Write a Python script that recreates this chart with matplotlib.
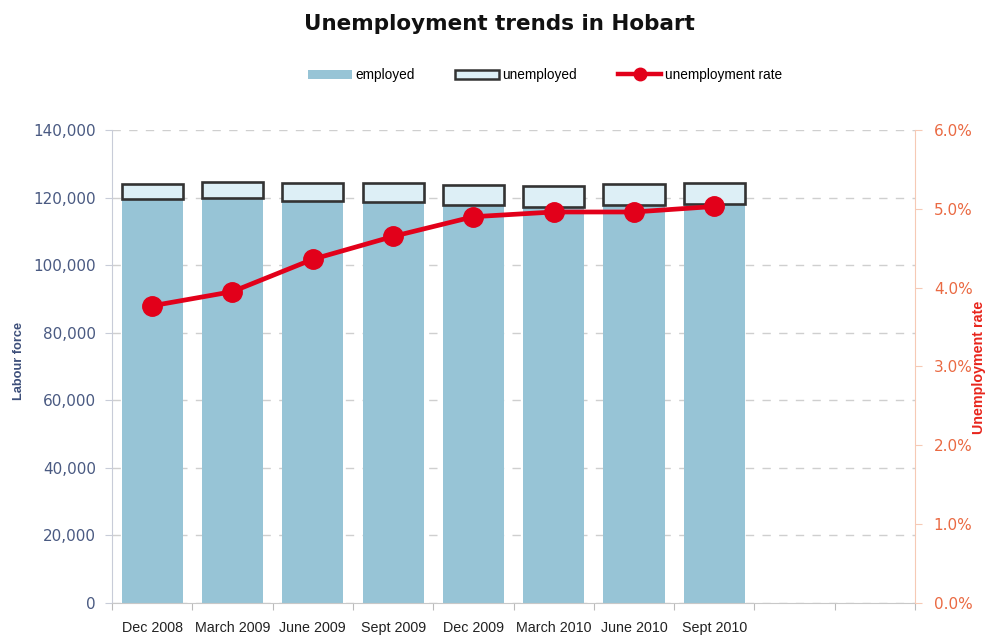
import matplotlib
matplotlib.use("Agg")
import matplotlib.pyplot as plt
from matplotlib.patches import Patch
from matplotlib.lines import Line2D
from matplotlib.ticker import FuncFormatter, FixedLocator

# Hobart labour force by quarter
quarters = ["Dec 2008", "March 2009", "June 2009", "Sept 2009",
            "Dec 2009", "March 2010", "June 2010", "Sept 2010"]
employed = [119500, 119900, 119000, 118700, 117900, 117200, 117700, 118000]
unemployed = [4500, 4600, 5300, 5600, 5800, 6200, 6300, 6400]
unemployment_rate = [3.77, 3.95, 4.36, 4.65, 4.90, 4.96, 4.96, 5.03]

n_slots = 10  # two empty slots are kept on the right of the axis

EMP_COLOR = "#97c4d6"
UNEMP_FILL = "#ddeff6"
UNEMP_EDGE = "#333333"
RATE_COLOR = "#e2001a"
LEFT_TXT = "#4a5a82"
RIGHT_TXT = "#ea6a43"

SANS = ["Liberation Sans", "DejaVu Sans"]
plt.rcParams["font.family"] = SANS

fig = plt.figure(figsize=(9.93, 6.36), dpi=100)
ax = fig.add_axes([0.1128, 0.0519, 0.8087, 0.7437])

x = list(range(len(quarters)))
ax.bar(x, employed, width=0.76, color=EMP_COLOR, zorder=2)
ax.bar(x, unemployed, width=0.76, bottom=employed, color=UNEMP_FILL,
       edgecolor=UNEMP_EDGE, linewidth=1.9, zorder=2)

ax.set_xlim(-0.5, n_slots - 0.5)
ax.set_ylim(0, 140000)
ax.set_yticks(range(0, 140001, 20000))
ax.yaxis.set_major_formatter(FuncFormatter(lambda v, p: f"{int(v):,}"))
ax.grid(axis="y", color="#cfcfcf", linestyle=(0, (6, 6)), linewidth=1)
ax.set_axisbelow(True)

# slot boundaries get tick marks, slot centres carry the labels
ax.xaxis.set_major_locator(FixedLocator([i - 0.5 for i in range(n_slots + 1)]))
ax.xaxis.set_minor_locator(FixedLocator(x))
ax.set_xticklabels([], minor=False)
ax.set_xticklabels(quarters, minor=True, fontsize=10.3, color="#222222")
ax.tick_params(axis="x", which="major", length=5, color="#bbbbbb")
ax.tick_params(axis="x", which="minor", length=0, pad=13)
ax.tick_params(axis="y", length=5, color="#c8ccd8", labelcolor=LEFT_TXT,
               pad=6.5)
for lbl in ax.get_yticklabels():
    lbl.set_family("DejaVu Sans")
    lbl.set_fontsize(11)

for side in ["top", "right"]:
    ax.spines[side].set_visible(False)
ax.spines["left"].set_color("#c8ccd8")
ax.spines["bottom"].set_color("#c8c8c8")

ax2 = ax.twinx()
ax2.plot(x, unemployment_rate, color=RATE_COLOR, linewidth=3.4,
         marker="o", markersize=14, zorder=3)
ax2.set_ylim(0, 6)
ax2.set_yticks(range(0, 7))
ax2.yaxis.set_major_formatter(FuncFormatter(lambda v, p: f"{v:.1f}%"))
ax2.tick_params(axis="y", length=5, color="#f6c9b5", labelcolor=RIGHT_TXT,
                pad=8.5)
for lbl in ax2.get_yticklabels():
    lbl.set_family("DejaVu Sans")
    lbl.set_fontsize(11)
for side in ["top", "left", "bottom"]:
    ax2.spines[side].set_visible(False)
ax2.spines["right"].set_color("#f6c9b5")

fig.text(0.503, 0.962, "Unemployment trends in Hobart", ha="center",
         va="center", family="DejaVu Sans", fontsize=15.5, fontweight="bold",
         color="#111111")

fig.text(0.019, 0.432, "Labour force", rotation=90, ha="center",
         va="center", fontsize=9.2, fontweight="bold", color="#3d4f7a")
fig.text(0.986, 0.423, "Unemployment rate", rotation=90, ha="center",
         va="center", fontsize=10.3, fontweight="bold", color="#e8251c")

handles = [
    Patch(facecolor=EMP_COLOR, edgecolor="none"),
    Patch(facecolor=UNEMP_FILL, edgecolor=UNEMP_EDGE, linewidth=1.8),
    Line2D([0], [0], color=RATE_COLOR, linewidth=3.2, marker="o",
           markersize=9),
]
fig.legend(handles, ["employed", "unemployed", "unemployment rate"],
           loc="center", bbox_to_anchor=(0.549, 0.882), ncol=3,
           frameon=False, prop={"size": 9.8},
           handlelength=3.2, handleheight=0.65, handletextpad=0.25,
           columnspacing=3.0)

fig.savefig("out.png", dpi=100)
